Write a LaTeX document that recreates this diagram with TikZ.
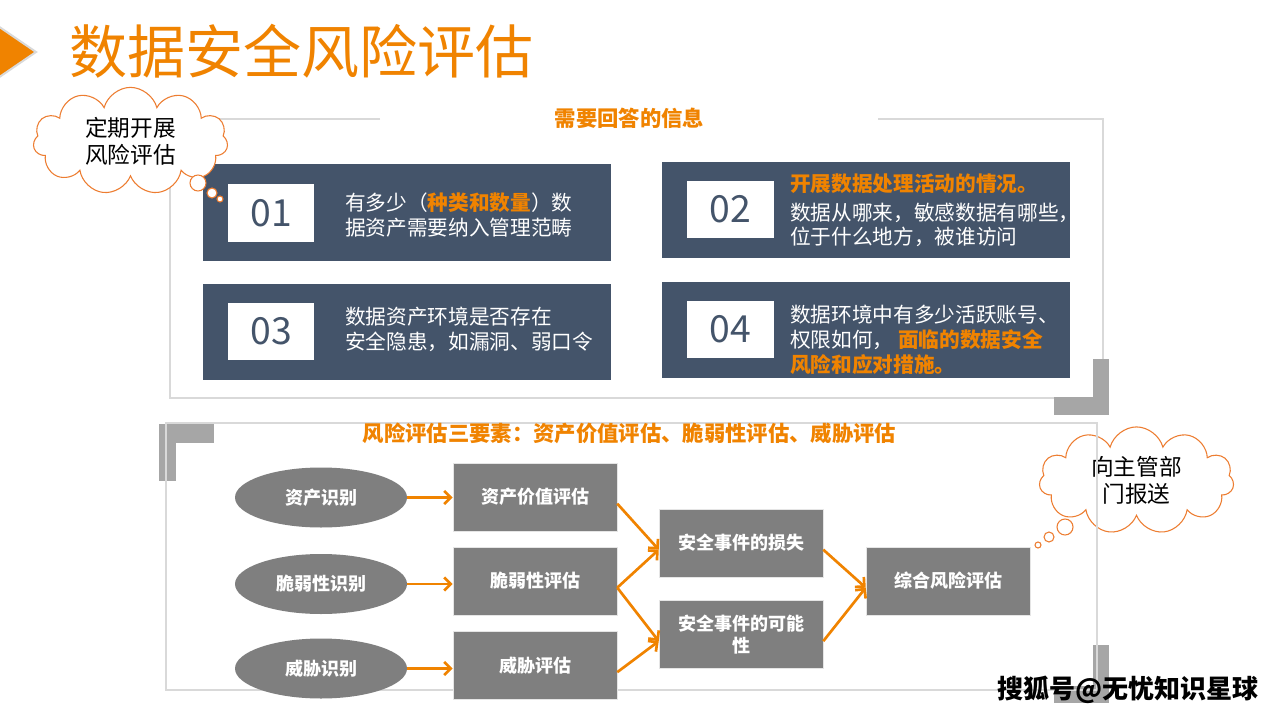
\documentclass[tikz,border=0pt]{standalone}
\usepackage{fontspec}
\setmainfont{Noto Sans CJK SC}
\usetikzlibrary{shapes.symbols,shapes.geometric,arrows.meta}
\definecolor{titleorange}{RGB}{240,131,0}
\definecolor{cloudline}{RGB}{237,125,49}
\definecolor{slate}{RGB}{68,84,106}
\definecolor{boxgray}{RGB}{127,127,127}
\definecolor{bargray}{RGB}{166,166,166}
\definecolor{framegray}{RGB}{217,217,217}
\tikzset{
  infobox/.style={fill=slate, minimum width=306pt, minimum height=72pt, inner sep=0pt},
  numbox/.style={fill=white, text=slate, minimum width=65pt, minimum height=43pt, inner sep=0pt, font=\fontsize{28}{28}\selectfont},
  infotext/.style={anchor=west, text=white, align=left, inner sep=0pt, font=\fontsize{15.5}{18.5}\selectfont},
  hl/.style={},
  evalbox/.style={fill=boxgray, draw=white!80!gray, text=white, minimum width=123pt, minimum height=51pt, inner sep=0pt, align=center, font=\fontsize{13.5}{16.5}\selectfont\bfseries},
  idnode/.style={ellipse, fill=boxgray, text=white, minimum width=129pt, minimum height=45pt, inner sep=0pt, font=\fontsize{13.5}{16.5}\selectfont\bfseries},
  flow/.style={draw=titleorange, line width=2pt, -{Straight Barb[length=5pt,width=10pt]}},
  thought/.style={cloud, cloud puffs=11, cloud ignores aspect, draw=cloudline, fill=white, line width=0.8pt, align=center, font=\fontsize{17}{20}\selectfont},
  bubble/.style={circle, draw=cloudline, fill=white, line width=0.8pt, inner sep=0pt},
  heading/.style={text=titleorange, inner sep=0pt, font=\fontsize{16}{16}\selectfont\bfseries},
  frameline/.style={draw=framegray, line width=0.8pt},
}
\newcommand{\orng}[1]{{\color{titleorange}\bfseries #1}}
\begin{document}
\begin{tikzpicture}[x=0.75pt, y=-0.75pt]
  \useasboundingbox[fill=white] (0,0) rectangle (1280,720);

  \filldraw[fill=titleorange, draw=black!15, line width=1.5pt] (-5,24) -- (36,52) -- (-5,80) -- cycle;
  \node[text=titleorange, inner sep=0pt, font=\fontsize{43.5}{43.5}\selectfont] (title) at (301,51) {数据安全风险评估};

  \fill[bargray] (1093,359) rectangle (1109,415);
  \fill[bargray] (1054,397) rectangle (1109,415);
  \draw[frameline] (380,119) -- (170,119) -- (170,398) -- (1054,398);
  \draw[frameline] (878,119) -- (1103,119) -- (1103,359);
  \node[heading] (qhead) at (629.5,118) {需要回答的信息};

  \foreach \id/\x/\y/\nx/\ny in {01/407/212.5/271/213, 02/866/210/730.5/209.5,
      03/407/332/271/331.5, 04/866/329.5/730.5/329.5} {
    \node[infobox] (box\id) at (\x,\y) {};
    \node[numbox] (num\id) at (\nx,\ny) {\id};
  }
  \node[infotext] (text01) at (345,215) {有多少（\orng{种类和数量}）数\\据资产需要纳入管理范畴};
  \node[infotext] (text02) at (790,210.5) {\orng{开展数据处理活动的情况。}\\[3pt]数据从哪来，敏感数据有哪些，\\位于什么地方，被谁访问};
  \node[infotext] (text03) at (345,329.5) {数据资产环境是否存在\\安全隐患，如漏洞、弱口令};
  \node[infotext] (text04) at (790,340) {数据环境中有多少活跃账号、\\权限如何，\ \orng{面临的数据安全}\\\orng{风险和应对措施。}};

  \node[thought, minimum width=146pt, minimum height=74pt] (plan) at (130.5,141) {定期开展\\风险评估};
  \node[bubble, minimum size=12pt] (pb1) at (198,183) {};
  \node[bubble, minimum size=7.5pt] (pb2) at (212,193) {};
  \node[bubble, minimum size=4.5pt] (pb3) at (220,199) {};

  \node[thought, fill=none, minimum width=146pt, minimum height=77pt] (report) at (1136.5,480.5) {向主管部\\门报送};
  \node[bubble, minimum size=12pt] (rb1) at (1065,527) {};
  \node[bubble, minimum size=7.5pt] (rb2) at (1049,537) {};
  \node[bubble, minimum size=4.5pt] (rb3) at (1038,545) {};

  \fill[bargray] (159,424) rectangle (176,481);
  \fill[bargray] (159,424) rectangle (214,443);
  \fill[bargray] (1093,645) rectangle (1109,703);
  \fill[bargray] (1054,686) rectangle (1109,703);
  \draw[frameline] (166,423) rectangle (1097,690);
  \node[heading] (rhead) at (629.5,433) {风险评估三要素：资产价值评估、脆弱性评估、威胁评估};

  \node[idnode] (asset) at (321,497.5) {资产识别};
  \node[idnode] (vuln) at (321,584) {脆弱性识别};
  \node[idnode] (threat) at (321,668.5) {威胁识别};
  \node[evalbox] (assetv) at (535,497) {资产价值评估};
  \node[evalbox] (vulnv) at (535,581) {脆弱性评估};
  \node[evalbox] (threatv) at (535,665.5) {威胁评估};
  \node[evalbox] (loss) at (741,543) {安全事件的损失};
  \node[evalbox] (chance) at (741,634.5) {安全事件的可能\\性};
  \node[evalbox] (total) at (948,581) {综合风险评估};

  \draw[flow] (asset.east) -- (asset.east -| assetv.west);
  \draw[flow] (vuln.east) -- (vuln.east -| vulnv.west);
  \draw[flow] (threat.east) -- (threat.east -| threatv.west);
  \draw[flow] ([yshift=-5pt]assetv.east) -- ([yshift=-5pt]loss.west);
  \draw[flow] ([yshift=-5pt]vulnv.east) -- ([yshift=-5pt]loss.west);
  \draw[flow] ([yshift=-5pt]vulnv.east) -- ([yshift=-5pt]chance.west);
  \draw[flow] ([yshift=-5pt]threatv.east) -- ([yshift=-5pt]chance.west);
  \draw[flow] ([yshift=-5pt]loss.east) -- ([yshift=-5pt]total.west);
  \draw[flow] ([yshift=-5pt]chance.east) -- ([yshift=-5pt]total.west);

  \node[inner sep=0pt, font=\fontsize{19.5}{19.5}\selectfont\bfseries] (mark) at (1128,690) {搜狐号@无忧知识星球};
\end{tikzpicture}
\end{document}
